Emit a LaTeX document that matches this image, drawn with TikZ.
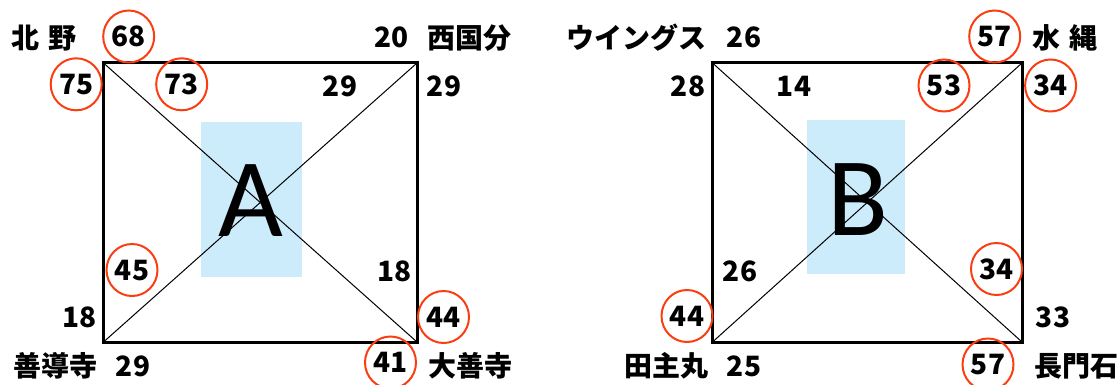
\documentclass[tikz,border=0pt]{standalone}
\usepackage{fontspec}
\newfontfamily\jpfont{Noto Sans CJK JP}
\newfontfamily\bigfont{Carlito}
\usetikzlibrary{shapes.geometric}
\definecolor{ringred}{RGB}{250,62,18}
\definecolor{paleblue}{RGB}{204,236,252}
\begin{document}
\begin{tikzpicture}[x=0.75pt,y=-0.75pt,
  lbl/.style={inner sep=0pt, font=\jpfont\bfseries\fontsize{21pt}{25pt}\selectfont, text height=15.1pt, text depth=0pt},
  ring/.style={lbl, ellipse, draw=ringred, line width=1.5pt, minimum width=38.25pt, minimum height=39pt},
  boxline/.style={line width=2.25pt},
  diag/.style={line width=0.75pt},
  bigletter/.style={inner sep=0pt, font=\bigfont\fontsize{84pt}{90pt}\selectfont, text height=54.1pt, text depth=0pt}]
\useasboundingbox (0,0) rectangle (1120,385);
% ---------- A ----------
\fill[paleblue] (201,122) rectangle (302,277);
\coordinate (Anw) at (103.5,63);
\coordinate (Ane) at (417,63);
\coordinate (Asw) at (103.5,342);
\coordinate (Ase) at (417,342);
\draw[diag] (Anw) -- (Ase);
\draw[diag] (Ane) -- (Asw);
\draw[boxline] (Anw) rectangle (Ase);
\node[bigletter] (letA) at (250.5,200.8) {A};
\node[lbl] (a1) at (44.2,38.3) {北\hspace{0.3em}野};
\node[ring] (a2) at (128.7,36.5) {68};
\node[lbl] (a3) at (391.7,37.3) {20};
\node[lbl] (a4) at (469,38.3) {西国分};
\node[ring] (a5) at (76.2,84.3) {75};
\node[ring] (a6) at (181.7,84.3) {73};
\node[lbl] (a7) at (340,86.3) {29};
\node[lbl] (a8) at (444,86.3) {29};
\node[ring] (a9) at (132,270) {45};
\node[lbl] (a10) at (394.5,271) {18};
\node[lbl] (a11) at (79.5,317) {18};
\node[ring] (a12) at (443.5,317) {44};
\node[lbl] (a13) at (55.6,366) {善導寺};
\node[lbl] (a14) at (133,366) {29};
\node[ring] (a15) at (390.5,362.5) {41};
\node[lbl] (a16) at (470,366) {大善寺};
% ---------- B ----------
\fill[paleblue] (806.5,120) rectangle (905,274);
\coordinate (Bnw) at (712.5,63);
\coordinate (Bne) at (1022,63);
\coordinate (Bsw) at (712.5,342);
\coordinate (Bse) at (1022,342);
\draw[diag] (Bnw) -- (Bse);
\draw[diag] (Bne) -- (Bsw);
\draw[boxline] (Bnw) rectangle (Bse);
\node[bigletter] (letB) at (857.5,199) {B};
\node[lbl] (b1) at (636,38.3) {ウイングス};
\node[lbl] (b2) at (744,37.3) {26};
\node[ring] (b3) at (994.7,36.5) {57};
\node[lbl] (b4) at (1065,38.3) {水\hspace{0.3em}縄};
\node[lbl] (b5) at (688,86.3) {28};
\node[lbl] (b6) at (794,86.3) {14};
\node[ring] (b7) at (944,85.5) {53};
\node[ring] (b8) at (1050.6,85.5) {34};
\node[lbl] (b9) at (740,271) {26};
\node[ring] (b10) at (996.5,269) {34};
\node[ring] (b11) at (687,316) {44};
\node[lbl] (b12) at (1053,317) {33};
\node[lbl] (b13) at (666,366) {田主丸};
\node[lbl] (b14) at (744,366) {25};
\node[ring] (b15) at (988,364.5) {57};
\node[lbl] (b16) at (1076,366) {長門石};
\end{tikzpicture}
\end{document}
